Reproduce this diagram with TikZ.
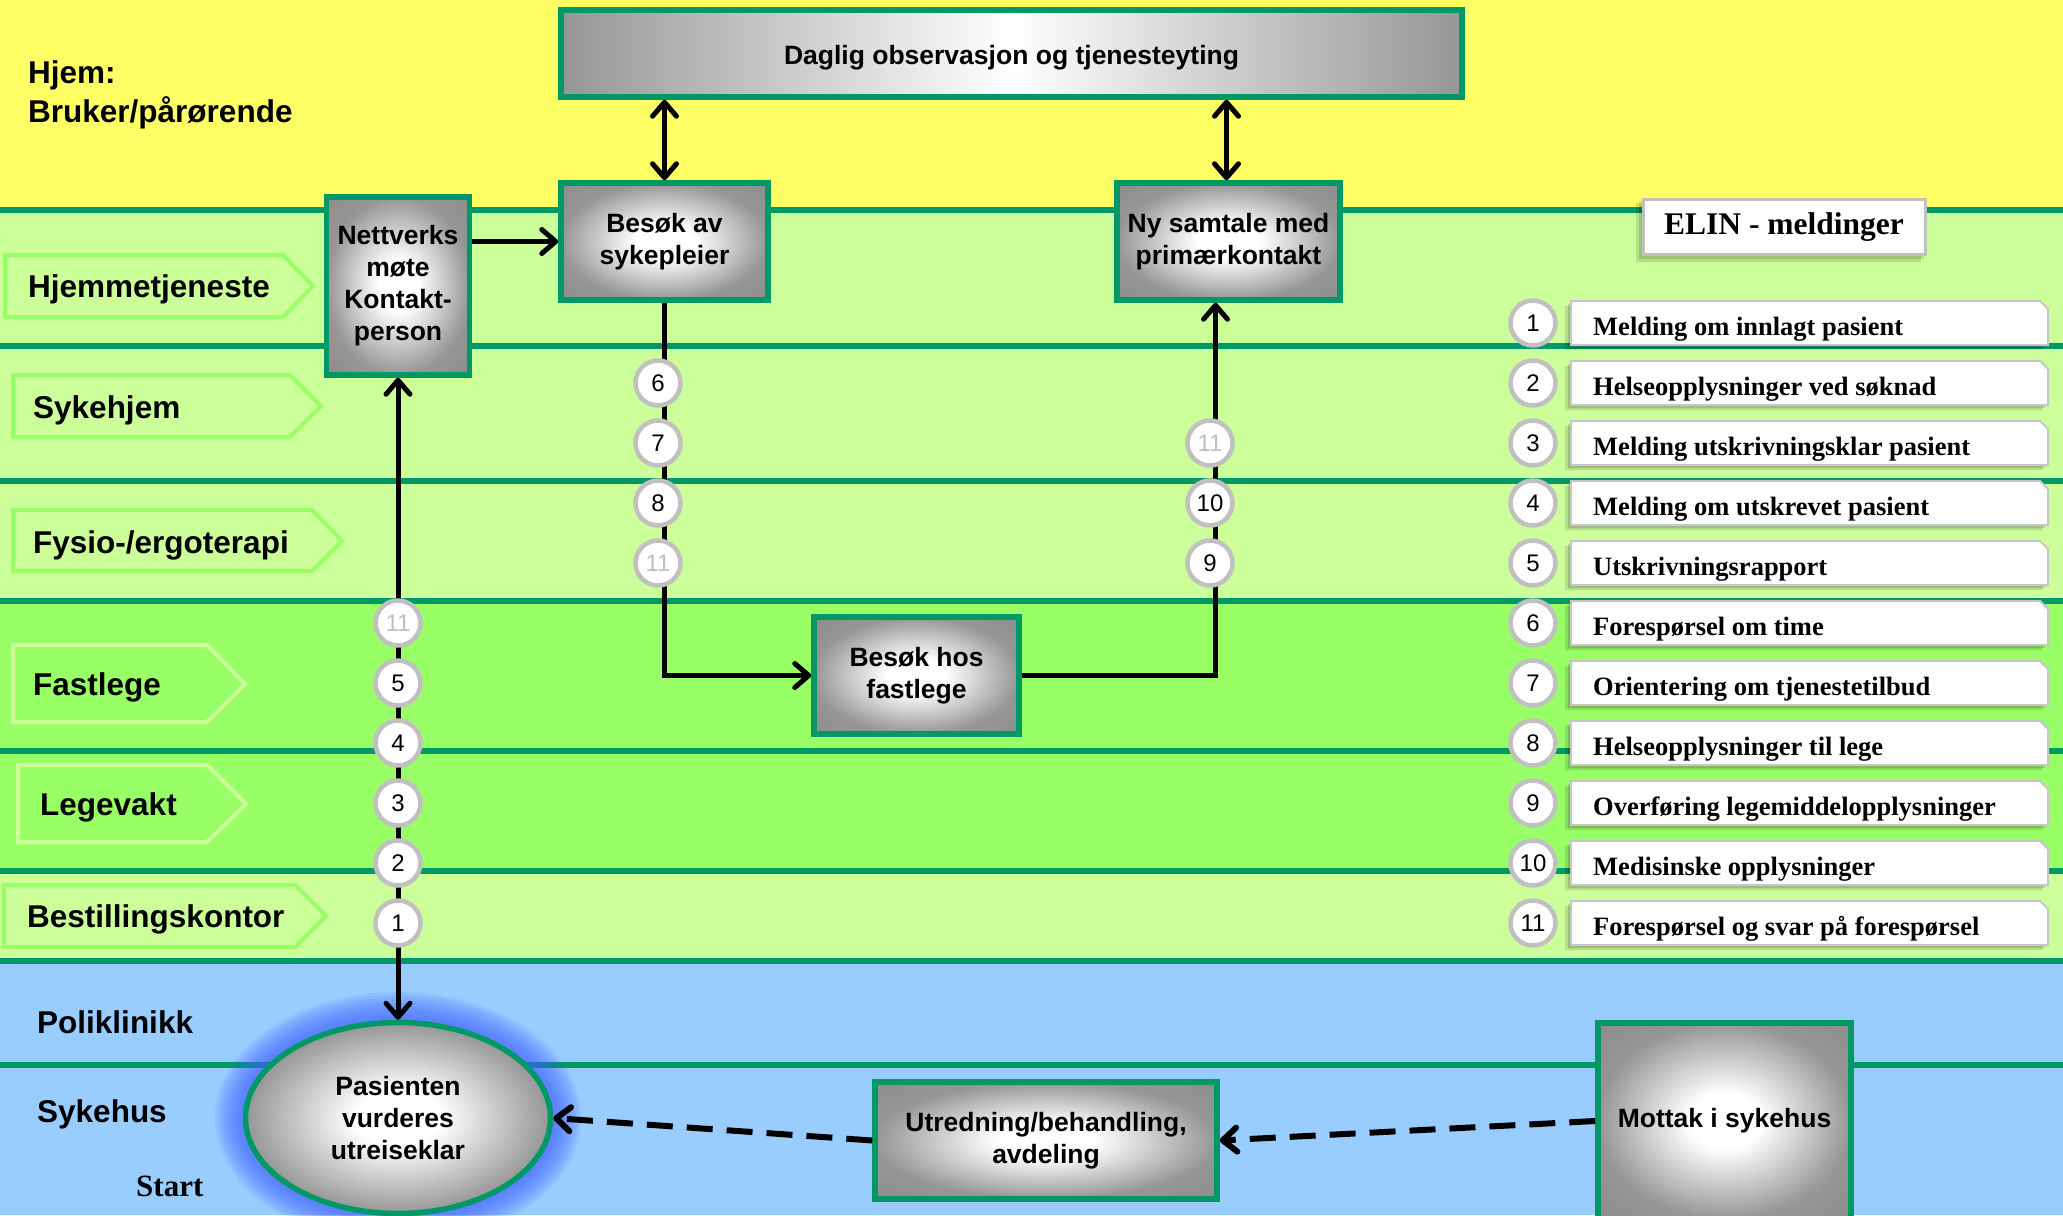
\documentclass[tikz,border=0pt]{standalone}
\usepackage{fontspec}
\setmainfont{Liberation Sans}
\newfontfamily\serifface{Liberation Serif}
\usetikzlibrary{arrows.meta,shapes.geometric}

\definecolor{hjemyellow}{HTML}{FFFF66}
\definecolor{lanelight}{HTML}{CCFF99}
\definecolor{lanebright}{HTML}{99FF66}
\definecolor{laneblue}{HTML}{99CCFF}
\definecolor{laneline}{HTML}{009966}
\definecolor{boxedge}{RGB}{150,150,150}
\definecolor{ringgray}{RGB}{192,192,192}
\definecolor{glowblue}{RGB}{64,96,255}

% white centre fading to grey edges, used in the process boxes
\pgfdeclareradialshading{boxshade}{\pgfpoint{0bp}{0bp}}{%
  color(0bp)=(white); color(7bp)=(white); color(25bp)=(boxedge); color(50bp)=(boxedge!85!black)}

\newcommand\lanefont{\fontsize{31.5}{39}\selectfont\bfseries}
\newcommand\flowfont{\fontsize{26.5}{32}\selectfont\bfseries}
\newcommand\numfont{\fontsize{24}{24}\selectfont}
\newcommand\legendfont{\serifface\fontsize{26.5}{30}\selectfont\bfseries}
\newcommand\titlefont{\serifface\fontsize{31.5}{36}\selectfont\bfseries}

\tikzset{
  divider/.style={draw=laneline, line width=5.5pt},
  lanetag/.style={line width=4pt, line join=miter},
  lanelabel/.style={anchor=base west, font=\lanefont, inner sep=0pt},
  flowbox/.style={rectangle, draw=laneline, line width=5.5pt, shading=boxshade,
    align=center, font=\flowfont, inner sep=0pt},
  flowoval/.style={ellipse, draw=laneline, line width=5.5pt, shading=boxshade,
    align=center, font=\flowfont, inner sep=0pt},
  link/.style={draw=black, line width=5pt},
  dashlink/.style={draw=black, line width=6pt, dash pattern=on 26pt off 14pt},
  numring/.style={circle, draw=ringgray, line width=4.5pt, fill=white,
    minimum size=45pt, inner sep=0pt, font=\numfont},
  faded/.style={text=ringgray},
  legendbox/.style={fill=white, draw=black!22, line width=2pt},
}

\begin{document}
\begin{tikzpicture}[x=1pt,y=-1pt,>={Straight Barb[length=14pt,width=24pt,round]}]
\useasboundingbox (0,0) rectangle (2063,1215);

% lanes
\fill[hjemyellow] (0,0) rectangle (2063,210);
\fill[lanelight] (0,210) rectangle (2063,601);
\fill[lanebright] (0,601) rectangle (2063,871);
\fill[lanelight] (0,871) rectangle (2063,961);
\fill[laneblue] (0,961) rectangle (2063,1215);
\foreach \yy in {210,346,481,601,751,871,961,1065}
  \draw[divider] (0,\yy) -- (2063,\yy);

% lane tags and names
\draw[lanetag, draw=lanebright] (5,255) -- (283,255) -- (313,286) -- (283,317) -- (5,317) -- cycle;
\draw[lanetag, draw=lanebright] (13,375) -- (290,375) -- (321,406) -- (290,437) -- (13,437) -- cycle;
\draw[lanetag, draw=lanebright] (13,510) -- (312,510) -- (342,541) -- (312,571) -- (13,571) -- cycle;
\draw[lanetag, draw=lanelight] (13,645) -- (207,645) -- (245,684) -- (207,722) -- (13,722) -- cycle;
\draw[lanetag, draw=lanelight] (18,765) -- (207,765) -- (246,804) -- (207,842) -- (18,842) -- cycle;
\draw[lanetag, draw=lanebright] (4,885) -- (295,885) -- (326,916) -- (295,947) -- (4,947) -- cycle;

\node[lanelabel] (hjem1) at (28,83) {Hjem:};
\node[lanelabel] (hjem2) at (28,122) {Bruker/pårørende};
\node[lanelabel] (lhjt) at (28,297) {Hjemmetjeneste};
\node[lanelabel] (lsyk) at (33,418) {Sykehjem};
\node[lanelabel] (lfys) at (33,553) {Fysio-/ergoterapi};
\node[lanelabel] (lfast) at (33,695) {Fastlege};
\node[lanelabel] (llege) at (40,815) {Legevakt};
\node[lanelabel] (lbest) at (27,927) {Bestillingskontor};
\node[lanelabel] (lpoli) at (37,1033) {Poliklinikk};
\node[lanelabel] (lsykh) at (37,1122) {Sykehus};
\node[anchor=base west, inner sep=0pt, font=\serifface\fontsize{31}{36}\selectfont\bfseries] (start) at (136,1196) {Start};

% glow round the start oval
\foreach \k in {1,...,10}
  \fill[glowblue, opacity=0.1] (398,1118) ellipse [x radius={(155+2.8*\k)*1pt}, y radius={(98+2.8*\k)*1pt}];

% process boxes
\node[flowbox, minimum width=901pt, minimum height=87pt, left color=boxedge, right color=boxedge, middle color=white]
  (daglig) at (1011.5,53.5) {\raisebox{-4pt}[\height][\depth]{Daglig observasjon og tjenesteyting}};
\node[flowbox, minimum width=143pt, minimum height=178pt] (nett) at (398,286) {Nettverks\\møte\\Kontakt-\\person};
\node[flowbox, minimum width=207pt, minimum height=117pt] (besokav) at (664.5,241.5) {Besøk av\\sykepleier};
\node[flowbox, minimum width=223pt, minimum height=117pt] (nysamt) at (1228.5,241.5) {Ny samtale med\\primærkontakt};
\node[flowbox, minimum width=205pt, minimum height=117pt] (fastl) at (916.5,675.5) {Besøk hos\\fastlege};
\node[flowbox, minimum width=342pt, minimum height=117pt] (utred) at (1046,1140.5) {Utredning/behandling,\\avdeling};
\node[flowbox, minimum width=253pt, minimum height=196pt] (mottak) at (1724.5,1121) {Mottak i sykehus};
\node[flowoval, minimum width=305pt, minimum height=191pt] (pasient) at (398,1118) {Pasienten\\vurderes\\utreiseklar};

% connectors
\draw[link, <->] (besokav.north) -- (besokav.north |- daglig.south);
\draw[link, <->] ([xshift=-2pt]nysamt.north) -- ([xshift=-2pt]nysamt.north |- daglig.south);
\draw[link, ->] (nett.east |- besokav.west) -- (besokav.west);
\draw[link, <->] (nett.south) -- (pasient.north);
\draw[link, ->] (besokav.south) |- (fastl.west);
\draw[link, ->] (fastl.east) -| ([xshift=-13pt]nysamt.south);
\draw[dashlink, ->] (mottak.west) -- (utred.east);
\draw[dashlink, ->] (utred.west) -- (pasient.east);

% message numbers on the connectors
\node[numring, faded] (a11) at (398,623) {11};
\node[numring] (a5) at (398,683) {5};
\node[numring] (a4) at (398,743) {4};
\node[numring] (a3) at (398,803) {3};
\node[numring] (a2) at (398,863) {2};
\node[numring] (a1) at (398,923) {1};
\node[numring] (b6) at (658,383) {6};
\node[numring] (b7) at (658,443) {7};
\node[numring] (b8) at (658,503) {8};
\node[numring, faded] (b11) at (658,563) {11};
\node[numring, faded] (c11) at (1210,443) {11};
\node[numring] (c10) at (1210,503) {10};
\node[numring] (c9) at (1210,563) {9};

% ELIN legend
\fill[black, opacity=0.12] (1636,203) rectangle (1921,262);
\fill[black, opacity=0.12] (1639,201) rectangle (1924,259);
\node[legendbox, draw=ringgray, line width=3pt, minimum width=282pt, minimum height=55pt, font=\titlefont]
  (elin) at (1784,227) {ELIN - meldinger};

\foreach \i/\txt in {1/Melding om innlagt pasient,
                     2/Helseopplysninger ved søknad,
                     3/Melding utskrivningsklar pasient,
                     4/Melding om utskrevet pasient,
                     5/Utskrivningsrapport,
                     6/Forespørsel om time,
                     7/Orientering om tjenestetilbud,
                     8/Helseopplysninger til lege,
                     9/Overføring legemiddelopplysninger,
                     10/Medisinske opplysninger,
                     11/Forespørsel og svar på forespørsel} {
  \pgfmathsetmacro\ry{323+60*(\i-1)}
  \begin{scope}[shift={(-6,5)}]
    \fill[black, opacity=0.12] (1571,{\ry-22}) -- (2040,{\ry-22}) -- (2048,{\ry-14}) -- (2048,{\ry+22}) -- (1571,{\ry+22}) -- cycle;
  \end{scope}
  \begin{scope}[shift={(-3,3)}]
    \fill[black, opacity=0.14] (1571,{\ry-22}) -- (2040,{\ry-22}) -- (2048,{\ry-14}) -- (2048,{\ry+22}) -- (1571,{\ry+22}) -- cycle;
  \end{scope}
  \draw[legendbox] (1571,{\ry-22}) -- (2040,{\ry-22}) -- (2048,{\ry-14}) -- (2048,{\ry+22}) -- (1571,{\ry+22}) -- cycle;
  \node[anchor=base west, inner sep=0pt, font=\legendfont] (leg\i) at (1593,{\ry+12}) {\txt};
  \node[numring] (legnum\i) at (1533,\ry) {\i};
}
\end{tikzpicture}
\end{document}
